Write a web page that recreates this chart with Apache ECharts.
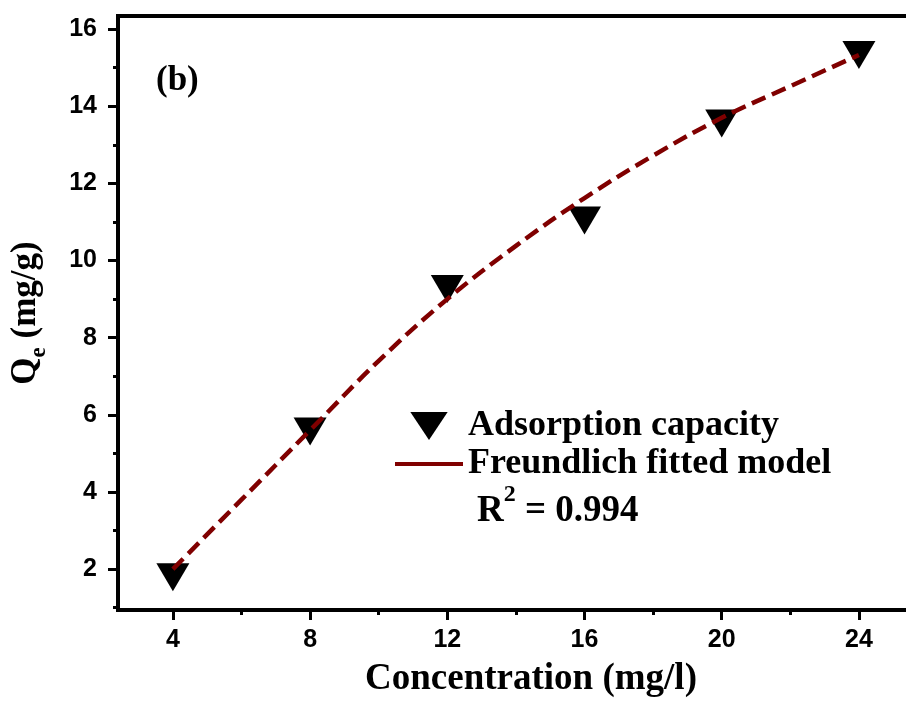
<!DOCTYPE html>
<html><head><meta charset="utf-8">
<script src="https://cdn.jsdelivr.net/npm/echarts@6/dist/echarts.min.js"></script>
<style>html,body{margin:0;padding:0;background:#fff;overflow:hidden;width:906px;height:704px}#c{width:944px;height:704px}</style>
</head><body><div id="c"></div>
<script>
// Measured data (symbols)
const concentration = [4, 8, 12, 16, 20, 24];
const adsorption = [1.79, 5.57, 9.26, 11.04, 13.55, 15.33];
// Fitted curve
const fitConcentration = [4, 6, 8, 10, 12, 14, 16, 18, 20, 22, 24];
const fitQe = [2.0, 3.8, 5.6, 7.4, 9.0, 10.38, 11.62, 12.72, 13.7, 14.52, 15.33];
// Ticks
const xMajorTicks = [4, 8, 12, 16, 20, 24];
const xMinorTicks = [6, 10, 14, 18, 22];
const yMajorTicks = [2, 4, 6, 8, 10, 12, 14, 16];
const yMinorTicks = [1, 3, 5, 7, 9, 11, 13, 15];
const seriesNames = ['Adsorption capacity', 'Freundlich fitted model'];

const X_MIN = 2.4, X_MAX = 26.48, Y_MIN = 0.94, Y_MAX = 16.34;
const SANS = 'Liberation Sans, Arial, sans-serif';
const SERIF = 'Liberation Serif, Times New Roman, serif';

const chart = echarts.init(document.getElementById('c'), null, {renderer: 'canvas'});
const tickLabel = {fontFamily: SANS, fontWeight: 'bold', fontSize: 25, color: '#000'};
const serifBold = {fontFamily: SERIF, fontWeight: 'bold', color: '#000'};

chart.setOption({
  backgroundColor: '#fff',
  animation: false,
  grid: {left: 118, top: 16, right: 0, bottom: 94, show: true, borderColor: '#000', borderWidth: 4, backgroundColor: 'transparent'},
  title: [
    {text: '(b)', left: 156, top: 63, padding: 0, textStyle: Object.assign({fontSize: 35}, serifBold)},
    {text: '{r|R}{s|2}{r| = 0.994}', left: 477, top: 483, padding: 0,
     textStyle: {rich: {
       r: Object.assign({fontSize: 37, verticalAlign: 'top', padding: [10, 0, 0, 0]}, serifBold),
       s: Object.assign({fontSize: 24, verticalAlign: 'top'}, serifBold)
     }}}
  ],
  legend: {
    orient: 'vertical', left: 390, top: 403, itemWidth: 68, itemHeight: 28, itemGap: 2,
    data: [
      {name: seriesNames[0], icon: 'path://M0,0L36,0L18,27Z', itemStyle: {color: '#000', opacity: 1}},
      {name: seriesNames[1], icon: 'path://M0,0L68,0L68,4L0,4Z', itemStyle: {color: '#800000', opacity: 1}}
    ],
    textStyle: Object.assign({fontSize: 36}, serifBold)
  },
  xAxis: [
    {type: 'value', min: X_MIN, max: X_MAX, position: 'bottom',
     axisLine: {show: true, lineStyle: {color: '#000', width: 4}},
     axisTick: {show: true, inside: false, customValues: xMajorTicks, length: 10, lineStyle: {color: '#000', width: 3}},
     axisLabel: Object.assign({customValues: xMajorTicks, margin: 18}, tickLabel),
     splitLine: {show: false},
     name: 'Concentration (mg/l)', nameLocation: 'middle', nameGap: 51,
     nameTextStyle: Object.assign({fontSize: 37}, serifBold)},
    {type: 'value', min: X_MIN, max: X_MAX, position: 'bottom',
     axisLine: {show: false},
     axisTick: {show: true, inside: false, customValues: xMinorTicks, length: 5, lineStyle: {color: '#000', width: 3}},
     axisLabel: {show: false}, splitLine: {show: false}}
  ],
  yAxis: [
    {type: 'value', min: Y_MIN, max: Y_MAX, position: 'left',
     axisLine: {show: true, lineStyle: {color: '#000', width: 4}},
     axisTick: {show: true, inside: false, customValues: yMajorTicks, length: 10, lineStyle: {color: '#000', width: 3}},
     axisLabel: Object.assign({customValues: yMajorTicks, margin: 21}, tickLabel),
     splitLine: {show: false},
     name: '{q|Q}{e|e}{q| (mg/g)}', nameLocation: 'middle', nameGap: 67,
     nameTextStyle: {rich: {
       q: Object.assign({fontSize: 35, verticalAlign: 'top'}, serifBold),
       e: Object.assign({fontSize: 23, verticalAlign: 'top', padding: [20, 0, 0, 0]}, serifBold)
     }}},
    {type: 'value', min: Y_MIN, max: Y_MAX, position: 'left',
     axisLine: {show: false},
     axisTick: {show: true, inside: false, customValues: yMinorTicks, length: 5, lineStyle: {color: '#000', width: 3}},
     axisLabel: {show: false}, splitLine: {show: false}}
  ],
  series: [
    {name: seriesNames[0], type: 'scatter', xAxisIndex: 0, yAxisIndex: 0,
     symbol: 'path://M0,0L36,0L18,30Z', symbolSize: [33, 28],
     itemStyle: {color: '#000', opacity: 1}, z: 2,
     data: concentration.map((c, i) => [c, adsorption[i]])},
    {name: seriesNames[1], type: 'line', xAxisIndex: 0, yAxisIndex: 0,
     smooth: 0.4, symbol: 'none', showSymbol: false, z: 3,
     lineStyle: {color: '#800000', width: 4.5, type: [15, 7]},
     itemStyle: {color: '#800000'},
     data: fitConcentration.map((c, i) => [c, fitQe[i]])}
  ]
});
</script></body></html>
